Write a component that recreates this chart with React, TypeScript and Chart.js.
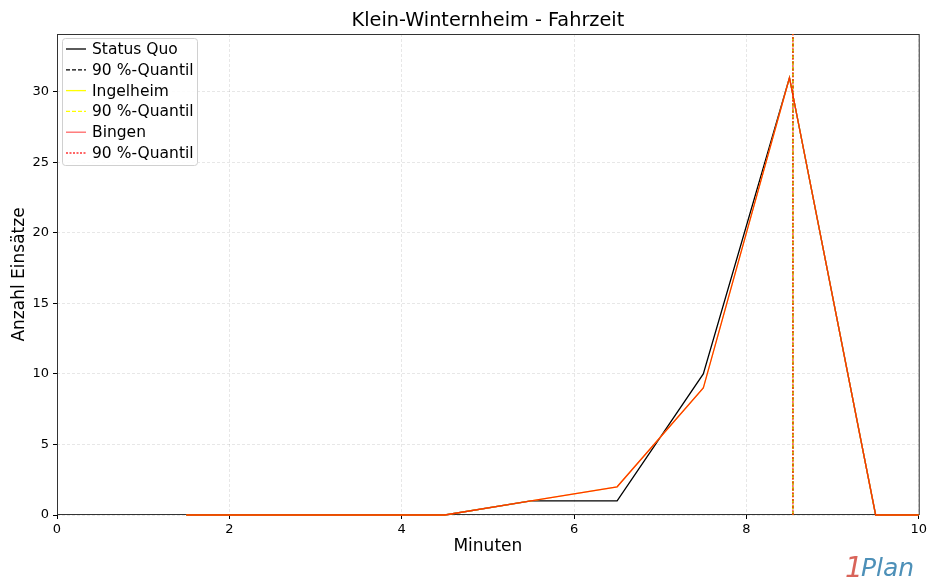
import React, { useEffect, useRef } from "react";
import { Chart, registerables } from "chart.js";

Chart.register(...registerables);

const minutes = [1.5, 2.5, 3.5, 4.5, 5.5, 6.5, 7.5, 8.5, 9.5, 10.5];
const statusQuo = [0, 0, 0, 0, 1, 1, 10, 31, 0, 0];
const ingelheim = [0, 0, 0, 0, 1, 2, 9, 31, 0, 0];
const bingen = [0, 0, 0, 0, 1, 2, 9, 31, 0, 0];
const quantileStatusQuo = 8.54;
const quantileIngelheim = 8.54;
const quantileBingen = 8.54;
const xTicks = [0, 2, 4, 6, 8, 10];
const yTicks = [0, 5, 10, 15, 20, 25, 30];
const yMax = 34.1;
const xMax = 10;

const titleText = "Klein-Winternheim - Fahrzeit";
const xLabel = "Minuten";
const yLabel = "Anzahl Einsätze";

const FONT = "'DejaVu Sans', sans-serif";

const toPts = (xs: number[], ys: number[]) => xs.map((x, i) => ({ x, y: ys[i] }));
const vline = (x: number) => [
  { x, y: 0 },
  { x, y: yMax },
];

export default function App() {
  const ref = useRef<HTMLCanvasElement>(null);

  useEffect(() => {
    document.body.style.margin = "0";
    const canvas = ref.current!;
    const legendItems = [
      { label: "Status Quo", color: "#000000", dash: [] as number[] },
      { label: "90 %-Quantil", color: "#000000", dash: [4, 2] },
      { label: "Ingelheim", color: "rgba(255,255,0,1)", dash: [] },
      { label: "90 %-Quantil", color: "rgba(255,255,0,1)", dash: [4, 2] },
      { label: "Bingen", color: "rgba(255,0,0,0.6)", dash: [] },
      { label: "90 %-Quantil", color: "rgba(255,0,0,0.8)", dash: [2, 1.5] },
    ];

    const frame = {
      id: "frame",
      beforeDatasetsDraw(chart: any) {
        const { ctx, chartArea: a } = chart;
        ctx.save();
        ctx.strokeStyle = "#333";
        ctx.lineWidth = 1;
        ctx.setLineDash([]);
        ctx.strokeRect(a.left + 0.5, a.top + 0.5, a.right - a.left, a.bottom - a.top - 1);
        ctx.restore();
      },
    };

    const decor = {
      id: "decor",
      afterDatasetsDraw(chart: any) {
        const { ctx, chartArea: a } = chart;
        ctx.save();
        ctx.fillStyle = "#000";
        ctx.textAlign = "center";
        ctx.textBaseline = "middle";
        ctx.font = `19.3px ${FONT}`;
        ctx.fillText(titleText, (a.left + a.right) / 2, 21);
        ctx.font = `17px ${FONT}`;
        ctx.fillText(xLabel, (a.left + a.right) / 2, 547);
        ctx.save();
        ctx.translate(20, (a.top + a.bottom) / 2);
        ctx.rotate(-Math.PI / 2);
        ctx.fillText(yLabel, 0, 0);
        ctx.restore();
        // legend
        const lx = 62, ly = 38, lw = 135, lh = 127;
        ctx.fillStyle = "rgba(255,255,255,0.85)";
        ctx.strokeStyle = "#d0d0d0";
        ctx.lineWidth = 1;
        ctx.beginPath();
        ctx.roundRect(lx + 0.5, ly + 0.5, lw, lh, 3);
        ctx.fill();
        ctx.stroke();
        ctx.font = `15.5px ${FONT}`;
        ctx.textAlign = "left";
        legendItems.forEach((it, i) => {
          const y = 49 + i * 20.8;
          ctx.strokeStyle = it.color;
          ctx.lineWidth = 1.3;
          ctx.setLineDash(it.dash);
          ctx.beginPath();
          ctx.moveTo(66, y);
          ctx.lineTo(86, y);
          ctx.stroke();
          ctx.setLineDash([]);
          ctx.fillStyle = "#000";
          ctx.fillText(it.label, 92, y + 1);
        });
        // logo
        ctx.textBaseline = "alphabetic";
        ctx.font = `italic 28px ${FONT}`;
        ctx.fillStyle = "#d9645a";
        ctx.fillText("1", 845, 577);
        ctx.fillStyle = "#4d90b8";
        ctx.font = `italic 25px ${FONT}`;
        ctx.fillText("Plan", 861, 576);
        ctx.restore();
      },
    };

    const clip = { left: 0, top: 0, right: 0, bottom: 3 };

    const chart = new Chart(canvas, {
      type: "line",
      data: {
        datasets: [
          {
            label: "Status Quo",
            data: toPts(minutes, statusQuo),
            borderColor: "#000",
            borderWidth: 1.3,
            pointRadius: 0,
            order: 5,
            clip,
          },
          {
            label: "90 %-Quantil",
            data: vline(quantileStatusQuo),
            borderColor: "#000",
            borderWidth: 1.3,
            borderDash: [4, 2],
            pointRadius: 0,
            order: 4,
          },
          {
            label: "Ingelheim",
            data: toPts(minutes, ingelheim),
            borderColor: "rgba(255,255,0,1)",
            borderWidth: 1.3,
            pointRadius: 0,
            order: 3,
            clip,
          },
          {
            label: "90 %-Quantil",
            data: vline(quantileIngelheim),
            borderColor: "rgba(255,255,0,1)",
            borderWidth: 1.3,
            borderDash: [4, 2],
            pointRadius: 0,
            order: 2,
          },
          {
            label: "Bingen",
            data: toPts(minutes, bingen),
            borderColor: "rgba(255,0,0,0.8)",
            borderWidth: 1.3,
            pointRadius: 0,
            order: 1,
            clip,
          },
          {
            label: "90 %-Quantil",
            data: vline(quantileBingen),
            borderColor: "rgba(255,0,0,0.8)",
            borderWidth: 1.3,
            borderDash: [2, 1.5],
            pointRadius: 0,
            order: 0,
          },
        ],
      },
      options: {
        animation: false,
        responsive: false,
        maintainAspectRatio: false,
        layout: { padding: { top: 34, right: 11, left: 0, bottom: 0 } },
        plugins: { legend: { display: false }, title: { display: false }, tooltip: { enabled: false } },
        elements: { line: { tension: 0 } },
        scales: {
          x: {
            type: "linear",
            min: 0,
            max: xMax,
            afterBuildTicks: (s: any) => {
              s.ticks = xTicks.map((v) => ({ value: v }));
            },
            afterFit: (s: any) => {
              s.height = 68;
            },
            ticks: { color: "#000", font: { family: FONT, size: 13 }, padding: 3, maxRotation: 0 },
            grid: {
              color: "rgba(0,0,0,0.12)",
              lineWidth: 0.8,
              tickLength: 4,
              tickColor: "#000",
              tickWidth: 1,
              tickBorderDash: [],
            },
            border: { display: false, dash: [3, 2] },
          },
          y: {
            type: "linear",
            min: 0,
            max: yMax,
            afterBuildTicks: (s: any) => {
              s.ticks = yTicks.map((v) => ({ value: v }));
            },
            afterFit: (s: any) => {
              s.width = 57;
            },
            ticks: { color: "#000", font: { family: FONT, size: 13 }, padding: 4 },
            grid: {
              color: "rgba(0,0,0,0.12)",
              lineWidth: 0.8,
              tickLength: 4,
              tickColor: "#000",
              tickWidth: 1,
              tickBorderDash: [],
            },
            border: { display: false, dash: [3, 2] },
          },
        },
      },
      plugins: [frame, decor],
    } as any);
    return () => chart.destroy();
  }, []);

  return (
    <div style={{ width: 930, height: 583 }}>
      <canvas ref={ref} width={930} height={583} style={{ display: "block" }} />
    </div>
  );
}
